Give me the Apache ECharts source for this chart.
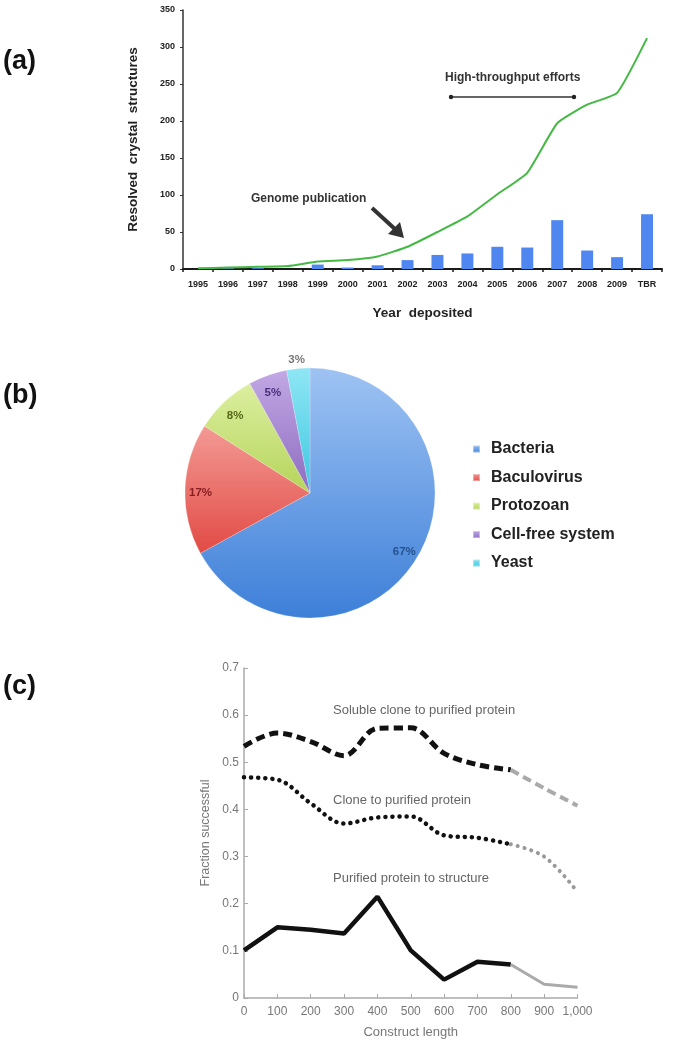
<!DOCTYPE html>
<html>
<head>
<meta charset="utf-8">
<script src="https://cdn.jsdelivr.net/npm/echarts@6/dist/echarts.min.js"></script>
<style>
html,body{margin:0;padding:0;background:#fff;}
#chart{width:674px;height:1048px;}
</style>
</head>
<body>
<div id="chart"></div>
<script>
// ---- Panel (a) data ----
const years = ['1995','1996','1997','1998','1999','2000','2001','2002','2003','2004','2005','2006','2007','2008','2009','TBR'];
const annualStructures = [0, 1, 1, 0, 6, 2, 5, 12, 19, 21, 30, 29, 66, 25, 16, 74];
const cumulativeStructures = [1, 2, 3, 4, 10, 12, 17, 30, 50, 71, 101, 130, 197, 222, 238, 312];

// ---- Panel (b) data ----
const hostNames = ['Bacteria', 'Baculovirus', 'Protozoan', 'Cell-free system', 'Yeast'];
const hostShares = [67, 17, 8, 5, 3];

// ---- Panel (c) data ----
const constructLengths = [0, 100, 200, 300, 400, 500, 600, 700, 800, 900, 1000];
const solubleToPurified = [0.534, 0.562, 0.544, 0.514, 0.572, 0.573, 0.519, 0.495, 0.484, 0.445, 0.408];
const cloneToPurified = [0.468, 0.463, 0.413, 0.370, 0.383, 0.385, 0.345, 0.340, 0.326, 0.300, 0.225];
const purifiedToStructure = [0.101, 0.150, 0.145, 0.137, 0.215, 0.101, 0.039, 0.077, 0.071, 0.029, 0.023];
const measuredCount = 9; // points 0..800 are solid black, 800..1000 grey

const sliceColors = [
  ['#9ec3f3', '#3d7fd8'],
  ['#f39a94', '#e24a45'],
  ['#dcefa0', '#b5d45a'],
  ['#c2a8e4', '#8d6cc0'],
  ['#8fe6f4', '#3ec7e0']
];
const labelColors = ['#23508f', '#8a1f22', '#58681a', '#4b2f7d', '#777777'];

function pairs(vals, from, to) {
  const out = [];
  for (let i = from; i < to; i++) out.push([constructLengths[i], vals[i]]);
  return out;
}

const chart = echarts.init(document.getElementById('chart'), null, {renderer: 'canvas'});

const boldFont = 'Liberation Sans, Arial, sans-serif';

const option = {
  backgroundColor: '#ffffff',
  animation: false,
  textStyle: {fontFamily: boldFont},
  grid: [
    {left: 183, top: 10, width: 479, height: 259},
    {left: 244, top: 668, width: 333.5, height: 330}
  ],
  xAxis: [
    {
      gridIndex: 0, type: 'category', data: years, boundaryGap: true,
      axisLine: {lineStyle: {color: '#1a1a1a', width: 2}},
      axisTick: {show: true, length: 3, lineStyle: {color: '#1a1a1a', width: 1.5}},
      axisLabel: {color: '#222', fontSize: 9, fontWeight: 'bold', margin: 11, interval: 0},
      name: 'Year  deposited', nameLocation: 'middle', nameGap: 37,
      nameTextStyle: {fontSize: 13.5, fontWeight: 'bold', color: '#222'}
    },
    {
      gridIndex: 1, type: 'value', min: 0, max: 1000, interval: 100,
      axisLine: {lineStyle: {color: '#aaaaaa', width: 1.5}},
      axisTick: {show: true, inside: true, length: 4, lineStyle: {color: '#aaaaaa'}},
      splitLine: {show: false},
      axisLabel: {color: '#777', fontSize: 12, margin: 8,
        formatter: v => v.toLocaleString('en-US')},
      name: 'Construct length', nameLocation: 'middle', nameGap: 28,
      nameTextStyle: {fontSize: 13, color: '#777'}
    }
  ],
  yAxis: [
    {
      gridIndex: 0, type: 'value', min: 0, max: 350, interval: 50,
      axisLine: {show: true, lineStyle: {color: '#333', width: 1.5}},
      axisTick: {show: true, length: 3, lineStyle: {color: '#333'}},
      splitLine: {show: false},
      axisLabel: {color: '#222', fontSize: 9, fontWeight: 'bold', margin: 8},
      name: 'Resolved  crystal  structures', nameLocation: 'middle', nameGap: 43,
      nameTextStyle: {fontSize: 13.5, fontWeight: 'bold', color: '#222'}
    },
    {
      gridIndex: 1, type: 'value', min: 0, max: 0.7, interval: 0.1,
      axisLine: {show: true, lineStyle: {color: '#aaaaaa', width: 1.5}},
      axisTick: {show: true, inside: true, length: 4, lineStyle: {color: '#aaaaaa'}},
      splitLine: {show: false},
      axisLabel: {color: '#777', fontSize: 12, margin: 5},
      name: 'Fraction successful', nameLocation: 'middle', nameGap: 32,
      nameTextStyle: {fontSize: 12.5, color: '#777'}
    }
  ],
  legend: {
    data: hostNames,
    orient: 'vertical',
    left: 467, top: 435,
    itemWidth: 7, itemHeight: 7, itemGap: 10.5,
    icon: 'rect',
    textStyle: {fontSize: 16, fontWeight: 'bold', color: '#222', lineHeight: 18, padding: [0, 0, 0, 6]},
    selectedMode: false
  },
  series: [
    {
      type: 'bar', xAxisIndex: 0, yAxisIndex: 0, data: annualStructures,
      barWidth: '40%', itemStyle: {color: '#4f86f0'}, z: 2
    },
    {
      type: 'line', xAxisIndex: 0, yAxisIndex: 0, data: cumulativeStructures,
      smooth: 0.15, symbol: 'none', lineStyle: {color: '#44b944', width: 2}, z: 3
    },
    {
      type: 'pie', center: [310, 493], radius: 125, startAngle: 90, clockwise: true,
      label: {show: false}, labelLine: {show: false},
      data: hostNames.map((n, i) => ({
        name: n, value: hostShares[i],
        itemStyle: {color: new echarts.graphic.LinearGradient(0, 0, 0, 1, [
          {offset: 0, color: sliceColors[i][0]}, {offset: 1, color: sliceColors[i][1]}
        ]), borderColor: 'rgba(255,255,255,0.4)', borderWidth: 0.5}
      })),
      silent: true
    },
    {
      type: 'pie', center: [310, 496], radius: [88, 125], startAngle: 90, clockwise: true,
      silent: true, legendHoverLink: false,
      itemStyle: {color: 'rgba(0,0,0,0)'},
      labelLine: {show: false, length: 4, length2: 0},
      data: hostNames.map((n, i) => ({
        name: n, value: hostShares[i],
        itemStyle: {color: 'rgba(0,0,0,0)'},
        label: i === hostNames.length - 1 ? {
          show: true, position: 'outside', formatter: '{c}%', offset: [12, -8],
          color: labelColors[i], fontSize: 11.5, fontWeight: 'bold'
        } : {
          show: true, position: 'inside', formatter: '{c}%',
          color: labelColors[i], fontSize: 11.5, fontWeight: 'bold'
        }
      }))
    },
    // Panel (c) lines
    {
      type: 'line', xAxisIndex: 1, yAxisIndex: 1, data: pairs(solubleToPurified, 0, measuredCount),
      smooth: 0.35, symbol: 'none', lineStyle: {color: '#111', width: 5, type: [9, 5]}
    },
    {
      type: 'line', xAxisIndex: 1, yAxisIndex: 1, data: pairs(solubleToPurified, measuredCount - 1, constructLengths.length),
      smooth: 0.35, symbol: 'none', lineStyle: {color: '#aaaaaa', width: 4, type: [9, 5]}
    },
    {
      type: 'line', xAxisIndex: 1, yAxisIndex: 1, data: pairs(cloneToPurified, 0, measuredCount),
      smooth: 0.35, symbol: 'none', lineStyle: {color: '#111', width: 4.5, type: [0.1, 7], cap: 'round'}
    },
    {
      type: 'line', xAxisIndex: 1, yAxisIndex: 1, data: pairs(cloneToPurified, measuredCount - 1, constructLengths.length),
      smooth: 0.35, symbol: 'none', lineStyle: {color: '#999999', width: 4, type: [0.1, 7], cap: 'round'}
    },
    {
      type: 'line', xAxisIndex: 1, yAxisIndex: 1, data: pairs(purifiedToStructure, 0, measuredCount),
      smooth: false, symbol: 'none', lineStyle: {color: '#111', width: 4.5}
    },
    {
      type: 'line', xAxisIndex: 1, yAxisIndex: 1, data: pairs(purifiedToStructure, measuredCount - 1, constructLengths.length),
      smooth: false, symbol: 'none', lineStyle: {color: '#aaaaaa', width: 3}
    }
  ],
  graphic: [
    {type: 'text', x: 3, y: 62, style: {text: '(a)', font: 'bold 27px ' + boldFont, fill: '#111', verticalAlign: 'middle'}},
    {type: 'text', x: 3, y: 396, style: {text: '(b)', font: 'bold 27px ' + boldFont, fill: '#111', verticalAlign: 'middle'}},
    {type: 'text', x: 3, y: 687, style: {text: '(c)', font: 'bold 27px ' + boldFont, fill: '#111', verticalAlign: 'middle'}},
    // annotations (a)
    {type: 'text', x: 251, y: 199, style: {text: 'Genome publication', font: 'bold 12px ' + boldFont, fill: '#333', verticalAlign: 'middle'}},
    {type: 'line', shape: {x1: 372, y1: 208, x2: 396, y2: 230}, style: {stroke: '#333', lineWidth: 4}},
    {type: 'polygon', shape: {points: [[404, 238], [400, 222], [388, 234]]}, style: {fill: '#333'}},
    {type: 'text', x: 445, y: 78, style: {text: 'High-throughput efforts', font: 'bold 12px ' + boldFont, fill: '#333', verticalAlign: 'middle'}},
    {type: 'line', shape: {x1: 451, y1: 97, x2: 574, y2: 97}, style: {stroke: '#333', lineWidth: 1.5}},
    {type: 'circle', shape: {cx: 451, cy: 97, r: 2.2}, style: {fill: '#222'}},
    {type: 'circle', shape: {cx: 574, cy: 97, r: 2.2}, style: {fill: '#222'}},
    // annotations (c)
    {type: 'text', x: 333, y: 710, style: {text: 'Soluble clone to purified protein', font: '13px ' + boldFont, fill: '#666', verticalAlign: 'middle'}},
    {type: 'text', x: 333, y: 800, style: {text: 'Clone to purified protein', font: '13px ' + boldFont, fill: '#666', verticalAlign: 'middle'}},
    {type: 'text', x: 333, y: 878, style: {text: 'Purified protein to structure', font: '13px ' + boldFont, fill: '#666', verticalAlign: 'middle'}}
  ]
};
chart.setOption(option);
</script>
</body>
</html>
